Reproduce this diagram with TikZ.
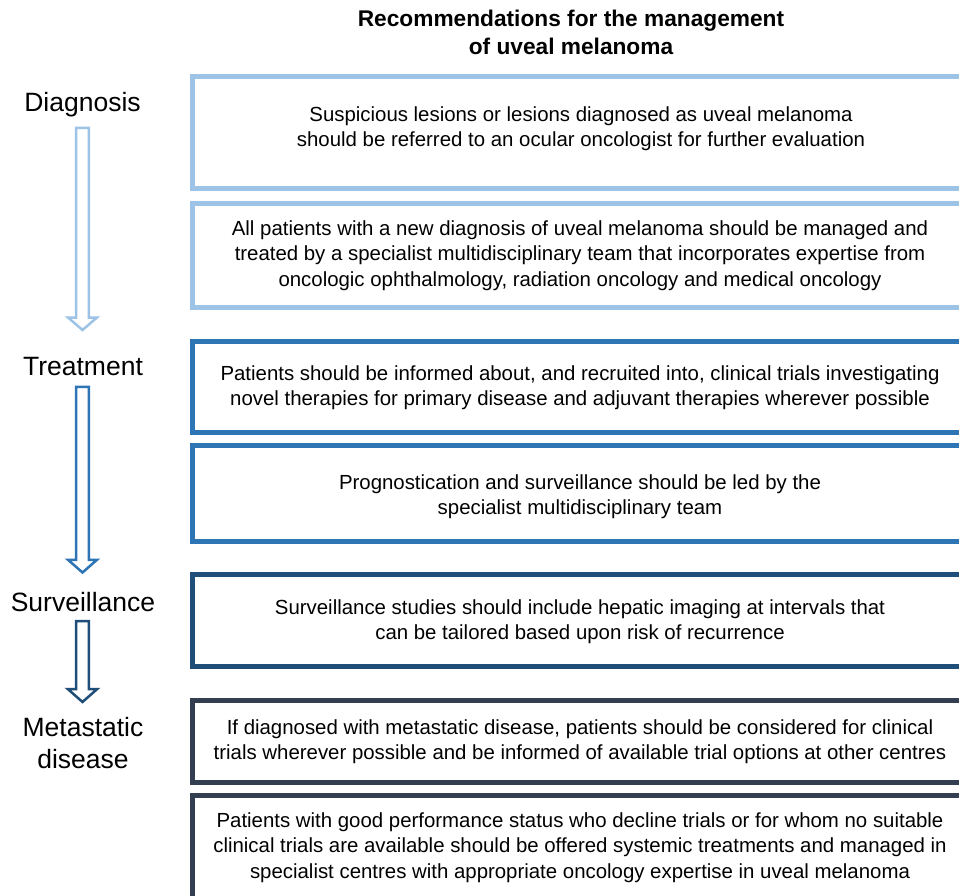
\documentclass[tikz,border=0pt]{standalone}
\usepackage{fontspec}
\setmainfont{Liberation Sans}
\definecolor{cdiag}{HTML}{9DC3E6}
\definecolor{ctreat}{HTML}{2E75B6}
\definecolor{csurv}{HTML}{1F4E79}
\definecolor{cmeta}{HTML}{333F50}
\tikzset{
  rbox/.style={draw=#1, line width=5pt, rectangle, inner sep=0pt, minimum width=774.5pt},
  btext/.style={align=center, inner sep=0pt, text=black, font=\fontsize{20.4}{25.3}\selectfont},
  stage/.style={align=center, inner sep=0pt, text=black, font=\fontsize{26.5}{31.5}\selectfont},
  ttl/.style={align=center, inner sep=0pt, text=black, font=\fontsize{22.7}{28}\selectfont\bfseries},
  barrow/.style={draw=#1, line width=2.5pt, line join=miter, fill=white}
}
\newcommand{\blkarrow}[5]{%
  \draw[barrow=#1] (#2-6.3,#3) -- (#2+6.3,#3) -- (#2+6.3,#4) -- (#2+14.5,#4) -- (#2,#5) -- (#2-14.5,#4) -- (#2-6.3,#4) -- cycle;}
\begin{document}
\begin{tikzpicture}[x=1pt,y=-1pt]
\useasboundingbox (0,0) rectangle (959,896);
\clip (0,0) rectangle (959,896);
\fill[white] (0,0) rectangle (959,896);

% title
\node[ttl] (title) at (571,32.5) {Recommendations for the management\\of uveal melanoma};

% boxes
\node[rbox=cdiag,  minimum height=112.5pt] (b1) at (579.75,132.75) {};
\node[rbox=cdiag,  minimum height=104pt]   (b2) at (579.75,255.5) {};
\node[rbox=ctreat, minimum height=90.6pt]  (b3) at (579.75,387) {};
\node[rbox=ctreat, minimum height=96.7pt]  (b4) at (579.75,493.35) {};
\node[rbox=csurv,  minimum height=92.4pt]  (b5) at (579.75,620.5) {};
\node[rbox=cmeta,  minimum height=82.7pt]  (b6) at (579.75,741.35) {};
\node[rbox=cmeta,  minimum height=110pt]   (b7) at (579.75,850) {};

% box texts
\node[btext] (t1) at (581,128.5) {Suspicious lesions or lesions diagnosed as uveal melanoma\\should be referred to an ocular oncologist for further evaluation};
\node[btext] (t2) at (580,255.5) {All patients with a new diagnosis of uveal melanoma should be managed and\\treated by a specialist multidisciplinary team that incorporates expertise from\\oncologic ophthalmology, radiation oncology and medical oncology};
\node[btext] (t3) at (580,388) {Patients should be informed about, and recruited into, clinical trials investigating\\novel therapies for primary disease and adjuvant therapies wherever possible};
\node[btext] (t4) at (580,496.5) {Prognostication and surveillance should be led by the\\specialist multidisciplinary team};
\node[btext] (t5) at (580,621.5) {Surveillance studies should include hepatic imaging at intervals that\\can be tailored based upon risk of recurrence};
\node[btext] (t6) at (580,741.5) {If diagnosed with metastatic disease, patients should be considered for clinical\\trials wherever possible and be informed of available trial options at other centres};
\node[btext] (t7) at (580,847.5) {Patients with good performance status who decline trials or for whom no suitable\\clinical trials are available should be offered systemic treatments and managed in\\specialist centres with appropriate oncology expertise in uveal melanoma};

% stage labels
\node[stage] (s1) at (82.5,105) {Diagnosis};
\node[stage] (s2) at (83,367) {Treatment};
\node[stage] (s3) at (83,602) {Surveillance};
\node[stage] (s4) at (83,743) {Metastatic\\disease};

% block arrows
\blkarrow{cdiag}{82.5}{127.9}{317.5}{330}
\blkarrow{ctreat}{82.5}{386.9}{559.8}{572.5}
\blkarrow{csurv}{82.5}{621.2}{689.2}{702}
\end{tikzpicture}
\end{document}
